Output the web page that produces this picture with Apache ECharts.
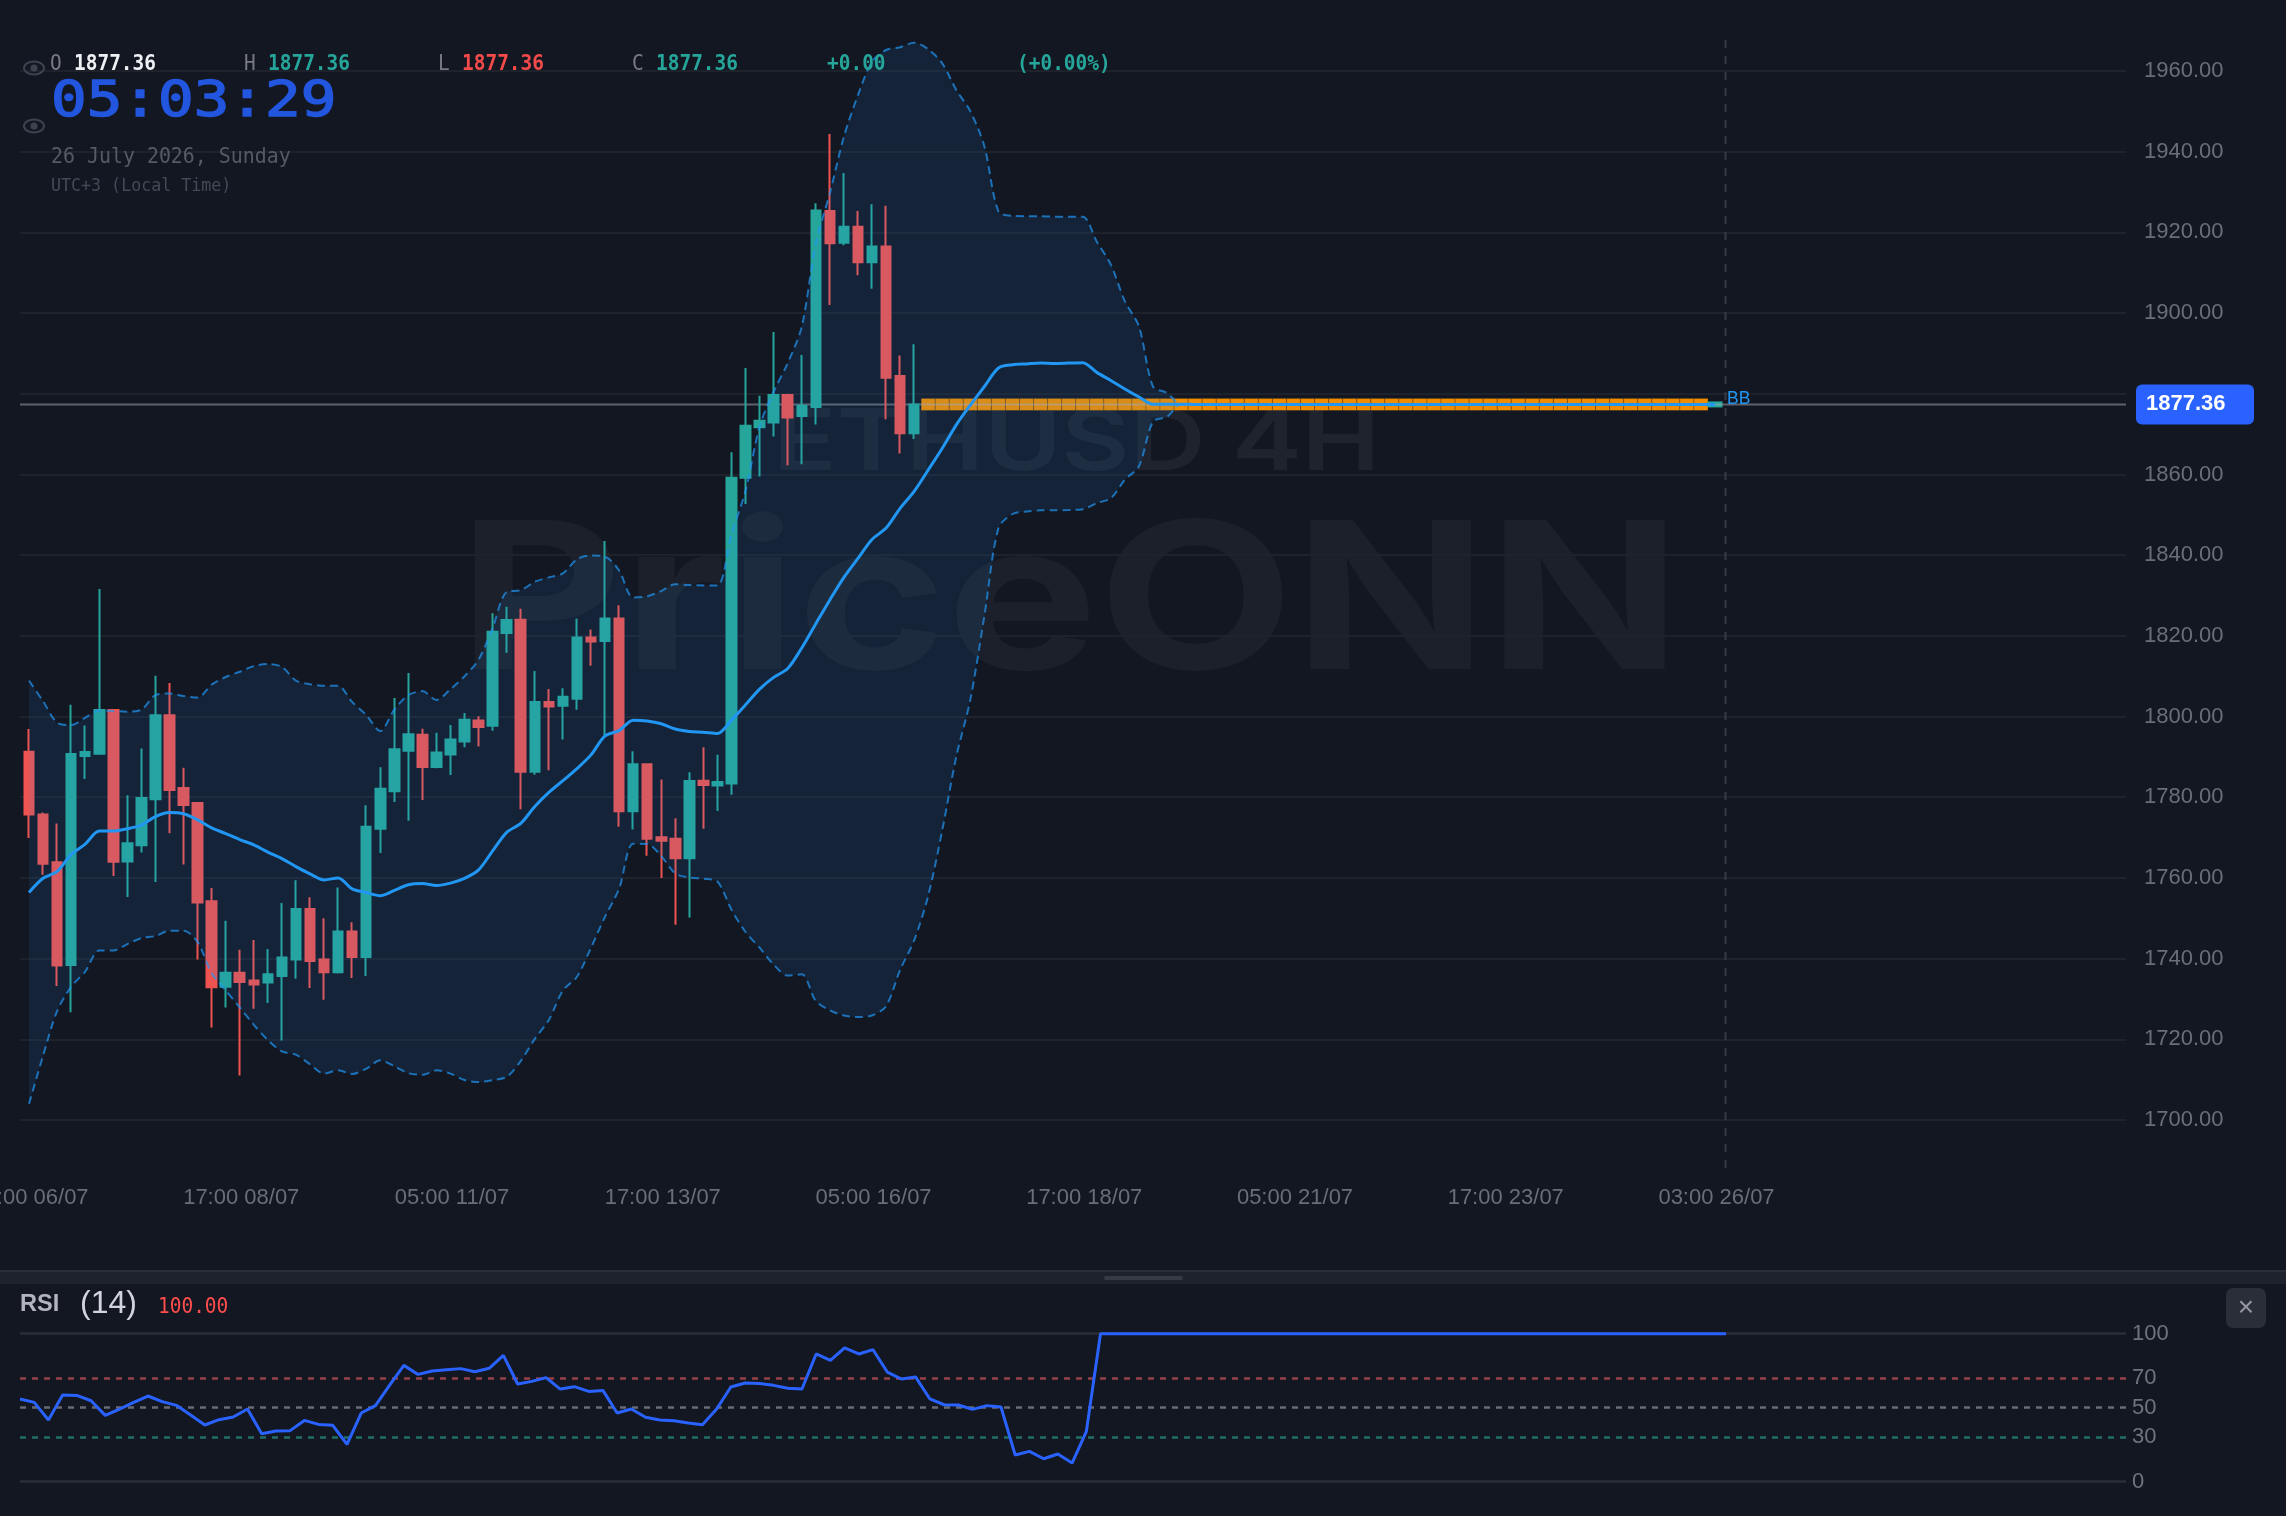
<!DOCTYPE html>
<html>
<head>
<meta charset="utf-8">
<title>ETHUSD 4H</title>
<style>html,body{margin:0;padding:0;background:#131722}#chart{width:2286px;height:1516px}</style>
<script src="https://cdn.jsdelivr.net/npm/echarts@6/dist/echarts.min.js"></script>
</head>
<body>
<div id="chart"></div>
<script>
// ETHUSD 4H candles, Bollinger Bands and RSI(14)
const lastClose = 1877.36;
const timeTicks = ['05:00 06/07','17:00 08/07','05:00 11/07','17:00 13/07','05:00 16/07','17:00 18/07','05:00 21/07','17:00 23/07','03:00 26/07'];
const priceTicksHidden = [1880];
const rsiLevels = [0, 30, 50, 70, 100];

const openPrices = [1791.3,1775.7,1763.9,1738.4,1790.2,1790.8,1801.6,1764.1,1768.1,1779.5,1800.3,1782.3,1778.6,1754.2,1733,1736.5,1734.6,1734.1,1735.7,1739.8,1752.3,1739.8,1736.6,1746.7,1740.4,1772.2,1781.5,1791.5,1795.5,1787.5,1790.6,1793.8,1799,1797.7,1820.7,1824,1786.3,1803.6,1802.7,1804.4,1819.6,1818.7,1824.3,1776.5,1788.2,1770.1,1769.7,1764.9,1784.1,1782.9,1783.4,1859.2,1871.7,1872.9,1879.7,1874.5,1876.7,1925.3,1917.4,1921.4,1912.6,1916.5,1884.4,1870.2];
const closePrices = [1775.7,1763.5,1738.3,1790.7,1791.2,1801.6,1764,1768.6,1779.8,1800.3,1781.8,1778.1,1753.9,1732.9,1736.5,1734.2,1733.6,1736.1,1740.3,1752.3,1739.4,1736.6,1746.7,1740.4,1772.7,1782.1,1791.9,1795.6,1787.5,1791.1,1794.3,1799.2,1797.4,1821,1823.9,1786.3,1803.6,1802.5,1804.9,1819.6,1818.6,1824.3,1776.5,1788.2,1769.7,1769.2,1764.9,1784,1783,1783.8,1859.2,1872.1,1873.3,1879.7,1874.1,1877,1925.4,1917.3,1921.4,1912.6,1916.5,1884,1870.2,lastClose];
const lowPrices = [1769.9,1760.8,1733.2,1726.7,1784.5,1790.5,1760.5,1755.3,1766.3,1759,1771.1,1763.3,1739.8,1722.9,1727.9,1711,1727.6,1729,1719.7,1735,1732.7,1729.8,1736.3,1735.2,1735.7,1766.2,1778.8,1774.2,1779.3,1787.2,1785.5,1792.4,1792.6,1796.5,1815.8,1777,1785.6,1786.7,1794.3,1801.7,1812.6,1794.8,1772.7,1772,1765.5,1760,1748.4,1750.2,1772.2,1776.6,1780.6,1852.7,1859.5,1869.4,1862.3,1862.5,1872.4,1902,1916.8,1909.4,1906,1873.7,1865.2,1868.8];
const highPrices = [1796.9,1776.2,1773.5,1802.9,1797.8,1831.6,1801.6,1780.5,1792.1,1810.1,1808.3,1787.3,1778.8,1757.5,1749.4,1742.2,1744.6,1742.4,1753.8,1759.4,1755.2,1750,1757.6,1749,1778,1787.4,1804.6,1810.8,1797,1796,1797.9,1800.9,1800.1,1825.6,1827.2,1826.7,1811.3,1806.8,1807,1824.3,1821.6,1843.5,1827.6,1791.4,1788.2,1784.4,1774.8,1786.2,1792.4,1790.5,1865.5,1886.4,1879.5,1895.3,1880,1889.6,1927.2,1944.4,1934.7,1925.3,1927,1926.6,1889.5,1892.3];

const upperValues = [1808.9,1803.8,1798.5,1797.9,1799.7,1801.5,1801.4,1801.2,1801.7,1805.3,1805.7,1805.1,1804.7,1807.9,1809.8,1811.1,1812.5,1813,1812.3,1808.9,1808,1807.6,1807.6,1803.6,1800.4,1796.4,1801.7,1805.3,1806.3,1804.1,1806.8,1810,1814.1,1822,1830.9,1831.3,1833.4,1834.5,1835.5,1839,1839.9,1839.6,1836.2,1829.5,1829.8,1831.1,1832.8,1832.6,1832.5,1832.5,1845.2,1856,1871.9,1880.5,1887.6,1896.6,1917.3,1929.7,1943.7,1954,1962.3,1965.2,1965.9,1967,1965.4,1961.9,1955.3,1950,1941.3,1925.2,1924.1,1924,1924,1923.9,1923.9,1923.9,1917.7,1912,1902.9,1896.7,1881.8,1880.2,1877.4];
const middleValues = [1756.4,1759.9,1761.6,1765.8,1768.4,1771.6,1771.6,1772.2,1773.1,1775.2,1776.2,1775.9,1774.4,1772.4,1771,1769.5,1768.2,1766.4,1764.8,1762.8,1761,1759.5,1760,1757.3,1756.4,1755.6,1756.9,1758.3,1758.6,1758.1,1758.7,1759.9,1762,1766.7,1771.3,1773.5,1777.7,1781.2,1784.1,1787.1,1790.5,1795.2,1796.5,1799.1,1798.9,1798.2,1796.9,1796.3,1796.1,1795.8,1799.1,1802.9,1806.8,1809.7,1811.9,1817,1823,1828.9,1834.5,1839.2,1843.9,1846.7,1851.6,1855.8,1861.1,1866.5,1872.3,1877.2,1881.8,1886.4,1887.2,1887.4,1887.6,1887.5,1887.6,1887.7,1885.3,1883.3,1881.2,1879.2,1877.4,1877.4,1877.4];
const lowerValues = [1704,1715.9,1727,1733,1736.8,1742,1742,1743.6,1745.1,1745.6,1746.9,1746.9,1744.1,1736.4,1732.1,1727.9,1723.6,1719.8,1717,1716.2,1713.8,1711.5,1712.3,1711.4,1712.7,1714.8,1713.3,1711.6,1711.2,1712.3,1711.5,1709.9,1709.4,1709.9,1710.7,1714.6,1720.1,1724.8,1732.1,1735.5,1742.7,1750.4,1757.3,1768.5,1768.4,1765.4,1761.1,1760.1,1759.8,1759.1,1752.1,1746.6,1742.7,1738.5,1735.8,1736.1,1729.5,1727.2,1725.9,1725.5,1725.9,1728.2,1737.2,1744.5,1755.6,1771.8,1790.1,1804.2,1825,1846.7,1850.2,1850.8,1851.1,1851.1,1851.2,1851.4,1852.9,1854.1,1858.7,1862,1873.1,1874.3,1877.4];

const rsiValues = [55.9,53.6,41.7,58.6,58.3,54.7,44.8,49.1,53.6,57.9,54.1,51.6,45,38.3,41.9,43.7,49.1,32.4,34.2,34.5,41.4,38.7,38.1,25.2,46.4,51.4,65.3,78.6,72.5,74.8,75.7,76.4,74.3,76.6,85.4,66,67.8,70.3,62.6,64.2,61,61.7,46.4,49.1,43.5,41.7,41.2,39.6,38.5,49.1,64,66.7,66.4,65.1,63.1,62.6,86.3,82,90.5,86.3,89.2,74.1,69.4,70.7,55.9,52,51.8,48.9,51.4,50.5,18,20.5,15.5,18.7,12.6,33.8,100];

// Sessions after the last traded candle repeat the last close.
const flatCount = 38;
const flatTail = Array(flatCount).fill(lastClose);
const upperAll = upperValues.concat(flatTail);
const middleAll = middleValues.concat(flatTail);
const lowerAll = lowerValues.concat(flatTail);
const rsiAll = rsiValues.concat(Array(44).fill(100));

const categories = Array.from({length: 150}, (_, i) => (i % 15 === 0 && timeTicks[i / 15]) || '');
const candles = openPrices.map((o, i) => [o, closePrices[i], lowPrices[i], highPrices[i]]);
const projected = [];
for (let i = openPrices.length; i < upperAll.length - 1; i++) projected.push([i, lastClose]);

const BG = '#131722', BLUE = '#2196f3', UP = '#26a69a', DOWN = '#ef5350';
const SANS = '"Liberation Sans", Arial, sans-serif';
const MONO = '"DejaVu Sans Mono", monospace';
const rsiMarks = [
  {v: 100, c: '#2a2e39', t: 'solid'}, {v: 70, c: '#96404a', t: [6, 6]},
  {v: 50, c: '#686a73', t: [6, 6]}, {v: 30, c: '#226f69', t: [6, 6]}, {v: 0, c: '#2a2e39', t: 'solid'}
];

const txt = (text, x, y, fill, font, extra) => Object.assign({
  type: 'text', x, y, z: 100, silent: true,
  style: {text, fill, font, align: 'left', verticalAlign: 'middle'}
}, extra || {});
const narrow = {scaleX: 0.905, originX: 0, originY: 0};
const eye = (cy) => [
  {type: 'ellipse', z: 100, silent: true, shape: {cx: 34, cy, rx: 10, ry: 6.5}, style: {fill: 'none', stroke: '#3d424e', lineWidth: 2}},
  {type: 'circle', z: 100, silent: true, shape: {cx: 34, cy, r: 3.5}, style: {fill: '#3d424e'}}
];
const HEAD = '21.5px ' + MONO, HEADB = 'bold 21.5px ' + MONO;

const option = {
  backgroundColor: BG,
  animation: false,
  grid: [
    {left: 20, width: 2106, top: -9.7, height: 1129.7, outerBoundsMode: 'none'},
    {left: 21.975, width: 2107.5, top: -9.7, height: 1129.7, outerBoundsMode: 'none'},
    {left: 20, width: 2106, top: 1333.7, height: 148, outerBoundsMode: 'none'}
  ],
  xAxis: [
    {gridIndex: 0, type: 'value', min: 0, max: 1, show: false},
    {gridIndex: 1, type: 'category', data: categories, boundaryGap: true,
      axisLine: {show: false}, axisTick: {show: false}, splitLine: {show: false},
      axisLabel: {interval: 14, margin: 67, color: '#6a6e78', fontSize: 22, fontFamily: SANS, hideOverlap: false, padding: [0, 0, 0, 3]}},
    {gridIndex: 2, type: 'value', min: 0, max: 148.13, show: false}
  ],
  yAxis: [
    {gridIndex: 0, type: 'value', position: 'right', min: 1700, max: 1980, interval: 20,
      axisLine: {show: false}, axisTick: {show: false},
      splitLine: {lineStyle: {color: '#1e222b', width: 2}},
      axisLabel: {margin: 18, color: '#6a6e78', fontSize: 22, fontFamily: SANS, padding: [3, 0, 0, 0],
        formatter: v => priceTicksHidden.includes(v) ? '' : v.toFixed(2)}},
    {gridIndex: 1, type: 'value', min: 1700, max: 1980, interval: 20, show: false, splitLine: {show: false}},
    {gridIndex: 2, type: 'value', position: 'right', min: 0, max: 100,
      axisLine: {show: false}, axisTick: {show: false}, splitLine: {show: false},
      axisLabel: {customValues: rsiLevels, margin: 6, color: '#6f737d', fontSize: 22, fontFamily: SANS, padding: [3, 0, 0, 0]}}
  ],
  series: [
    {name: 'Projected', type: 'scatter', xAxisIndex: 1, yAxisIndex: 1, z: 1, data: projected,
      symbol: 'rect', symbolSize: [14.05, 12],
      itemStyle: {color: '#f08c00', borderColor: 'rgba(19,23,34,0.22)', borderWidth: 1, opacity: 1}},
    {name: 'Last', type: 'scatter', xAxisIndex: 1, yAxisIndex: 1, z: 1, data: [[upperAll.length - 1, lastClose]],
      symbol: 'rect', symbolSize: [15, 6], itemStyle: {color: UP, opacity: 1}},
    {name: 'Price line', type: 'line', xAxisIndex: 0, yAxisIndex: 0, z: 1.5, data: [[0, lastClose], [1, lastClose]],
      showSymbol: false, lineStyle: {color: 'rgba(170,172,180,0.5)', width: 2},
      endLabel: {show: true, formatter: () => lastClose.toFixed(2), distance: 10, color: '#fff',
        fontSize: 22, fontWeight: 'bold', fontFamily: SANS, backgroundColor: '#2962ff', borderRadius: 6,
        padding: [11, 10, 7, 10], width: 98, align: 'left', verticalAlign: 'middle'}},
    {name: 'ETHUSD', type: 'candlestick', xAxisIndex: 1, yAxisIndex: 1, z: 2, data: candles, barWidth: 10,
      itemStyle: {color: UP, color0: DOWN, borderColor: UP, borderColor0: DOWN, borderWidth: 2}},
    {name: 'Band base', type: 'line', xAxisIndex: 1, yAxisIndex: 1, z: 3, stack: 'bb', data: lowerAll,
      smooth: 0.3, showSymbol: false, lineStyle: {opacity: 0, width: 0}},
    {name: 'Band fill', type: 'line', xAxisIndex: 1, yAxisIndex: 1, z: 3, stack: 'bb',
      data: upperAll.map((u, i) => +(u - lowerAll[i]).toFixed(2)),
      smooth: 0.3, showSymbol: false, lineStyle: {opacity: 0, width: 0}, areaStyle: {color: 'rgba(33,150,243,0.1)', opacity: 1}},
    {name: 'Upper', type: 'line', xAxisIndex: 1, yAxisIndex: 1, z: 4, data: upperAll, smooth: 0.3, showSymbol: false,
      lineStyle: {color: BLUE, width: 2, type: [8, 5], opacity: 0.7}},
    {name: 'Lower', type: 'line', xAxisIndex: 1, yAxisIndex: 1, z: 4, data: lowerAll, smooth: 0.3, showSymbol: false,
      lineStyle: {color: BLUE, width: 2, type: [8, 5], opacity: 0.7}},
    {name: 'Middle', type: 'line', xAxisIndex: 1, yAxisIndex: 1, z: 5, data: middleAll, smooth: 0.3, showSymbol: false,
      lineStyle: {color: BLUE, width: 3}},
    {name: 'RSI', type: 'line', xAxisIndex: 2, yAxisIndex: 2, z: 5, clip: false, data: rsiAll.map((v, i) => [i, v]),
      showSymbol: false, lineStyle: {color: '#2962ff', width: 3},
      markLine: {silent: true, symbol: 'none', z: 1, label: {show: false}, animation: false,
        data: rsiMarks.map(m => ({yAxis: m.v, lineStyle: {color: m.c, type: m.t, width: 2.5}}))}}
  ],
  graphic: {elements: [
    // watermark
    txt('PriceONN', 458, 607, 'rgba(255,255,255,0.04)', '700 205px Inter, "DejaVu Sans", sans-serif', {z: 0, scaleX: 1.24, originX: 0, originY: 0}),
    txt('ETHUSD 4H', 773, 444, 'rgba(255,255,255,0.055)', '600 85px Inter, "DejaVu Sans", sans-serif', {z: 0, scaleX: 1.235, originX: 0, originY: 0}),
    // crosshair
    {type: 'line', z: 1, silent: true, shape: {x1: 1725.5, y1: 40, x2: 1725.5, y2: 1168},
      style: {stroke: '#363a45', lineWidth: 2, lineDash: [8, 8]}},
    // OHLC header
    txt('O', 50, 64, '#787b86', HEAD, narrow), txt('1877.36', 74, 64, '#eef0f4', HEADB, narrow),
    txt('H', 244, 64, '#787b86', HEAD, narrow), txt('1877.36', 268, 64, UP, HEADB, narrow),
    txt('L', 438, 64, '#787b86', HEAD, narrow), txt('1877.36', 462, 64, '#f44a4a', HEADB, narrow),
    txt('C', 632, 64, '#787b86', HEAD, narrow), txt('1877.36', 656, 64, UP, HEADB, narrow),
    txt('+0.00', 827, 64, UP, HEADB, narrow), txt('(+0.00%)', 1017, 64, UP, HEADB, narrow),
    ...eye(68), ...eye(126),
    // clock
    {type: 'text', x: 51, y: 103, z: 100, silent: true, scaleX: 1.185, originX: 0, originY: 0,
      style: {text: '05:03:29', fill: '#2356df', stroke: '#2356df', lineWidth: 1.5, font: '50px ' + MONO, align: 'left', verticalAlign: 'middle'}},
    txt('26 July 2026, Sunday', 51, 157, '#565a65', '22px ' + MONO, narrow),
    txt('UTC+3 (Local Time)', 51, 186, '#454955', '18.4px ' + MONO, narrow),
    txt('BB', 1727, 399, BLUE, '17.5px ' + SANS),
    // pane separator
    {type: 'rect', z: 100, silent: true, shape: {x: 0, y: 1270, width: 2286, height: 2}, style: {fill: '#2a2e39'}},
    {type: 'rect', z: 100, silent: true, shape: {x: 0, y: 1272, width: 2286, height: 12}, style: {fill: '#1e222d'}},
    {type: 'rect', z: 100, silent: true, shape: {x: 1104, y: 1276, width: 79, height: 4, r: 2}, style: {fill: '#363a45'}},
    // RSI pane header and close button
    txt('RSI', 20, 1305, '#b2b5be', 'bold 23.5px ' + SANS),
    txt('(14)', 80, 1304, '#d1d4dc', '32px ' + SANS),
    txt('100.00', 158, 1307, '#ff4d4d', HEAD, narrow),
    {type: 'rect', z: 100, silent: true, shape: {x: 2226, y: 1288, width: 40, height: 40, r: 7}, style: {fill: '#2a2e39'}},
    txt('\u00d7', 2246, 1308, '#9598a1', '28px ' + SANS, {style: {text: '\u00d7', fill: '#9598a1', font: '28px ' + SANS, align: 'center', verticalAlign: 'middle'}})
  ]}
};

echarts.init(document.getElementById('chart'), null, {renderer: 'canvas'}).setOption(option);
</script>
</body>
</html>
